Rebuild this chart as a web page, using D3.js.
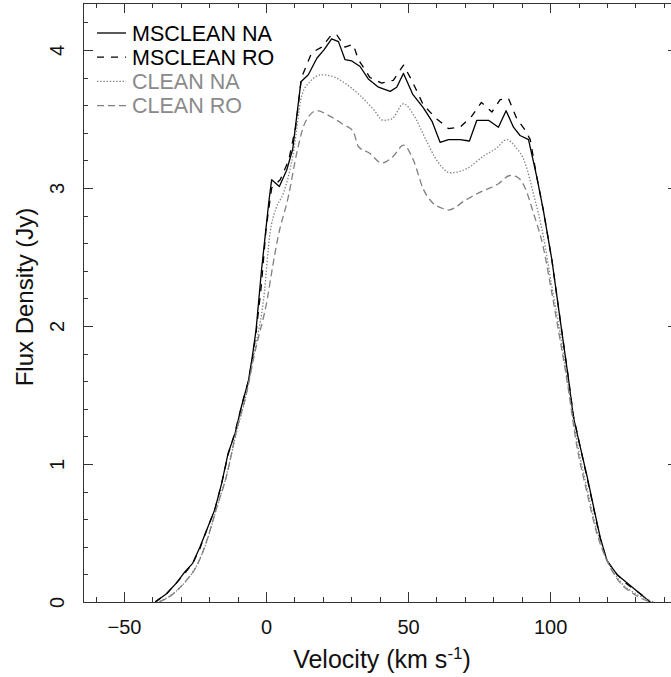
<!DOCTYPE html>
<html>
<head>
<meta charset="utf-8">
<script src="https://cdn.jsdelivr.net/npm/d3@7/dist/d3.min.js"></script>
<style>
  html, body { margin: 0; padding: 0; background: #fff; overflow: hidden; }
  svg { display: block; font-family: "Liberation Sans", Arial, Helvetica, sans-serif; }
</style>
</head>
<body>
<svg id="chart" width="671" height="677"></svg>
<script>
// ---------------- DATA ----------------
const seriesNames = ["MSCLEAN NA", "MSCLEAN RO", "CLEAN NA", "CLEAN RO"];

// [velocity (km/s), flux density (Jy)]
const msCleanNA = [
  [-39,0],[-35,0.06],[-31.4,0.14],[-28.5,0.22],[-25.8,0.28],[-23.2,0.40],[-20.9,0.52],
  [-18,0.67],[-15.6,0.86],[-13.3,1.08],[-10.9,1.22],[-8.6,1.42],[-6.2,1.60],[-4.8,1.78],
  [-3.5,1.97],[-1.6,2.4],[-0.35,2.64],[1,2.9],[2,3.06],[4.7,3.01],[7.3,3.13],[9.4,3.28],
  [12.3,3.77],[14.9,3.82],[17.9,3.94],[20.4,4.0],[23.1,4.08],[25.5,4.06],[27.8,3.93],
  [30.2,3.92],[33.1,3.88],[36,3.79],[39.6,3.73],[43.7,3.70],[46,3.73],[48.4,3.83],
  [51.6,3.68],[55.4,3.58],[58.5,3.48],[61.3,3.33],[64.2,3.35],[68.3,3.35],[71.6,3.34],
  [74.2,3.49],[78.3,3.49],[81.8,3.44],[84.5,3.56],[87.1,3.44],[89.4,3.38],[92.4,3.35],
  [95.3,3.08],[97.6,2.84],[100.6,2.48],[103.5,2.05],[106.5,1.61],[108.2,1.34],[110.4,1.14],
  [113,0.91],[115.8,0.64],[117.6,0.47],[120,0.30],[123.5,0.20],[127,0.14],[131.7,0.06],[135.2,0]
];
const msCleanRO = [
  [-39,0],[-35,0.06],[-31.4,0.14],[-28.5,0.21],[-25.8,0.28],[-23.2,0.39],[-20.9,0.52],
  [-18,0.67],[-15.6,0.86],[-13.3,1.07],[-10.9,1.23],[-8.6,1.42],[-6.2,1.60],[-4.8,1.76],
  [-3.5,1.95],[-1.6,2.3],[0,2.7],[2,3.0],[5,3.06],[8,3.2],[10.5,3.45],[12.5,3.8],
  [16.1,3.98],[19.6,4.02],[23.1,4.11],[24.9,4.11],[27.8,4.02],[30.7,4.04],[32.5,3.93],
  [36.6,3.80],[40.7,3.76],[44.8,3.78],[48.4,3.89],[51.3,3.78],[55.4,3.60],[60.1,3.50],
  [64.2,3.43],[68.3,3.44],[72.4,3.52],[75.8,3.62],[79.5,3.55],[82.4,3.64],[85.3,3.65],
  [88.3,3.50],[91.2,3.42],[93,3.35],[95.3,3.08],[97.6,2.84],[100.6,2.48],[103.5,2.05],
  [106.5,1.61],[108.2,1.35],[110.4,1.14],[113,0.90],[115.8,0.63],[117.6,0.46],[120,0.30],
  [123.5,0.20],[127,0.13],[131.7,0.06],[135.2,0]
];
const cleanNA = [
  [-38.5,0],[-34,0.04],[-30,0.11],[-27,0.18],[-24,0.28],[-21,0.43],[-17.5,0.67],
  [-14,0.91],[-10.5,1.22],[-7,1.5],[-4,1.82],[-0.8,2.2],[1.4,2.67],[3.5,2.85],[6.1,2.96],
  [9.6,3.25],[12.6,3.67],[15.5,3.77],[19.6,3.82],[23.1,3.81],[28.4,3.75],[33.1,3.67],
  [37.8,3.57],[41.3,3.49],[44.3,3.50],[48.4,3.61],[51.9,3.53],[56.5,3.34],[59.5,3.22],
  [62,3.15],[64.8,3.11],[70.7,3.14],[76.5,3.23],[81.2,3.29],[84.7,3.35],[87.7,3.30],
  [91.2,3.18],[94.1,2.96],[97.6,2.65],[100.5,2.3],[103.5,1.95],[106.5,1.55],[109.5,1.16],
  [113,0.82],[116.4,0.52],[120,0.31],[124.6,0.15],[129.3,0.07],[134,0.02],[136.5,0]
];
const cleanRO = [
  [-37.5,0],[-32.6,0.06],[-27.9,0.16],[-24.4,0.26],[-20.9,0.44],[-17.4,0.68],[-13.8,0.92],
  [-10.3,1.25],[-7,1.5],[-4,1.8],[0.5,2.2],[2.5,2.45],[4.3,2.65],[7.9,2.94],[10.8,3.25],
  [13.1,3.44],[15.5,3.53],[17.9,3.56],[22.5,3.52],[27.2,3.46],[30.7,3.41],[32.5,3.30],
  [36.6,3.25],[40.7,3.18],[44.8,3.23],[48.4,3.31],[51.9,3.20],[55.4,2.99],[58.3,2.90],
  [62.4,2.85],[64.2,2.84],[70.1,2.91],[75.4,2.97],[78.9,3.00],[81.8,3.03],[85.9,3.09],
  [88.3,3.08],[91.2,3.00],[94.1,2.82],[97.6,2.57],[100.5,2.25],[103.5,1.9],[105.9,1.61],
  [109.4,1.13],[113,0.79],[116.4,0.50],[120,0.30],[124.6,0.14],[129.3,0.06],[134,0.01],[136,0]
];

const xMajorTicks = [-50, 0, 50, 100];
const xMinorTicks = d3.range(-60, 141, 10);
const yMajorTicks = [0, 1, 2, 3, 4];
const yMinorTicks = d3.range(0, 4.21, 0.2);

const xTitle = "Velocity (km s";
const xTitleSup = "-1";
const yTitle = "Flux Density (Jy)";

// ---------------- LAYOUT ----------------
const svg = d3.select("#chart");
const L = 83, R = 678, T = 3, B = 602;
const x = d3.scaleLinear().domain([-64.4, 145]).range([L, R]);
const y = d3.scaleLinear().domain([0, 4.34]).range([B, T]);

const axisColor = "#333";
const gray = "#808080";

const styles = [
  { data: msCleanNA, color: "#000", dash: null, width: 1.3, curve: d3.curveLinear, text: "#000" },
  { data: msCleanRO, color: "#000", dash: "7,7", width: 1.3, curve: d3.curveLinear, text: "#000" },
  { data: cleanNA, color: gray, dash: "1.4,1.8", width: 1.3, curve: d3.curveMonotoneX, text: "#8a8a8a" },
  { data: cleanRO, color: gray, dash: "7,4", width: 1.3, curve: d3.curveMonotoneX, text: "#8a8a8a" }
];

// ---------------- CURVES ----------------
const gLines = svg.append("g");
styles.forEach(s => {
  const line = d3.line().x(d => x(d[0])).y(d => y(d[1])).curve(s.curve);
  gLines.append("path")
    .datum(s.data)
    .attr("d", line)
    .attr("fill", "none")
    .attr("stroke", s.color)
    .attr("stroke-width", s.width)
    .attr("stroke-dasharray", s.dash)
    .attr("stroke-linejoin", "round");
});

// ---------------- AXES ----------------
function styleAxis(g) {
  g.select(".domain").remove();
  g.selectAll("line").attr("stroke", axisColor).attr("stroke-width", 1);
  g.attr("shape-rendering", "crispEdges");
}
const MAJ = 10, MIN = 5;

// bottom
svg.append("g").attr("transform", `translate(0,${B})`)
  .call(d3.axisBottom(x).tickValues(xMinorTicks).tickSize(-MIN).tickFormat(""))
  .call(styleAxis);
const gxb = svg.append("g").attr("transform", `translate(0,${B})`)
  .call(d3.axisBottom(x).tickValues(xMajorTicks).tickSize(-MAJ).tickFormat(d3.format("d")))
  .call(styleAxis);
gxb.selectAll("text")
  .attr("y", 32).attr("dy", null)
  .attr("fill", "#111")
  .attr("font-size", 20)
  .attr("font-family", "Liberation Sans, Arial, sans-serif");

// top
svg.append("g").attr("transform", `translate(0,${T})`)
  .call(d3.axisTop(x).tickValues(xMinorTicks).tickSize(-MIN).tickFormat(""))
  .call(styleAxis);
svg.append("g").attr("transform", `translate(0,${T})`)
  .call(d3.axisTop(x).tickValues(xMajorTicks).tickSize(-MAJ).tickFormat(""))
  .call(styleAxis);

// left
svg.append("g").attr("transform", `translate(${L},0)`)
  .call(d3.axisLeft(y).tickValues(yMinorTicks).tickSize(-MIN).tickFormat(""))
  .call(styleAxis);
const gyl = svg.append("g").attr("transform", `translate(${L},0)`)
  .call(d3.axisLeft(y).tickValues(yMajorTicks).tickSize(-MAJ).tickFormat(d3.format("d")))
  .call(styleAxis);
gyl.selectAll("text")
  .attr("x", null).attr("dy", null)
  .attr("text-anchor", "middle")
  .attr("transform", `translate(${64 - L},0) rotate(-90)`)
  .attr("fill", "#111")
  .attr("font-size", 20)
  .attr("font-family", "Liberation Sans, Arial, sans-serif");

// right (only major ticks reach into view)
svg.append("g").attr("transform", `translate(${R},0)`)
  .call(d3.axisRight(y).tickValues(yMajorTicks.slice(1)).tickSize(-MAJ).tickFormat(""))
  .call(styleAxis);

// frame (top, left, bottom; right edge lies outside the canvas)
const frame = svg.append("g").attr("stroke", axisColor).attr("stroke-width", 1)
  .attr("shape-rendering", "crispEdges");
frame.append("line").attr("x1", L).attr("x2", R).attr("y1", T).attr("y2", T);
frame.append("line").attr("x1", L).attr("x2", R).attr("y1", B).attr("y2", B);
frame.append("line").attr("x1", L).attr("x2", L).attr("y1", T).attr("y2", B);

// ---------------- TITLES ----------------
const xt = svg.append("text")
  .attr("x", 382).attr("y", 668)
  .attr("text-anchor", "middle")
  .attr("font-size", 25).attr("fill", "#111");
xt.append("tspan").text(xTitle);
xt.append("tspan").attr("dy", -9).attr("font-size", 17).text(xTitleSup);
xt.append("tspan").attr("dy", 9).text(")");

svg.append("text")
  .attr("transform", `translate(33,${297}) rotate(-90)`)
  .attr("text-anchor", "middle")
  .attr("font-size", 24).attr("fill", "#111")
  .text(yTitle);

// ---------------- LEGEND ----------------
const lg = svg.append("g");
styles.forEach((s, i) => {
  const cy = 33 + 24.2 * i;
  lg.append("line")
    .attr("x1", 97).attr("x2", 126).attr("y1", cy).attr("y2", cy)
    .attr("stroke", s.color).attr("stroke-width", s.width)
    .attr("stroke-dasharray", s.dash);
  lg.append("text")
    .attr("x", 132).attr("y", cy + 7.5)
    .attr("font-size", 21.5).attr("fill", s.text)
    .text(seriesNames[i]);
});
</script>
</body>
</html>
